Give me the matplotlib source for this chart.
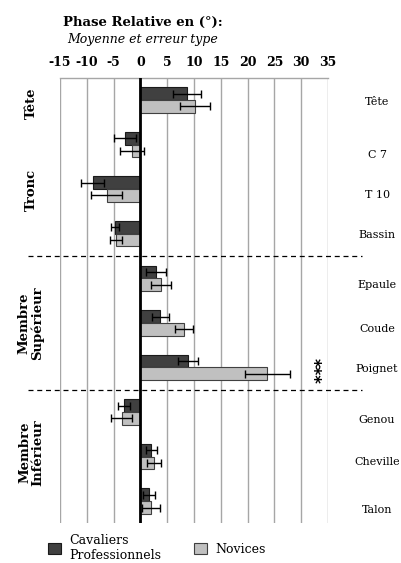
import matplotlib
matplotlib.use("Agg")
import matplotlib.pyplot as plt
import numpy as np

categories = ["Tête", "C 7", "T 10", "Bassin", "Epaule", "Coude", "Poignet",
              "Genou", "Cheville", "Talon"]
pro_mean = [8.7, -2.9, -8.9, -4.8, 2.85, 3.7, 8.9, -3.0, 2.0, 1.6]
pro_err = [2.6, 2.1, 2.1, 0.75, 1.9, 1.55, 1.9, 1.1, 1.05, 1.2]
nov_mean = [10.2, -1.6, -6.3, -4.6, 3.85, 8.1, 23.7, -3.5, 2.6, 2.0]
nov_err = [2.8, 2.2, 2.9, 1.1, 1.9, 1.7, 4.2, 2.0, 1.3, 1.7]
xticks = [-15, -10, -5, 0, 5, 10, 15, 20, 25, 30, 35]
groups = ["Tête", "Tronc", "Membre\nSupérieur", "Membre\nInférieur"]
series_names = ["Cavaliers\nProfessionnels", "Novices"]

# layout (not data)
label_dy = [0.04, 0.23, 0.13, 0.03, 0.16, 0.13, 0.03, 0.17, 0.13, 0.19]
group_y = [0.07, 2.02, 5.0, 7.91]
sep_y = [3.5, 6.5]

SERIF = "DejaVu Serif"
plt.rcParams['font.family'] = [SERIF]

fig = plt.figure(figsize=(4.02, 5.63), dpi=100)
ax = fig.add_axes([0.1493, 0.0702, 0.6667, 0.7918])

y = np.arange(len(categories))
h = 0.285
ekw = dict(ecolor="black", elinewidth=1.0, capsize=3, capthick=1.0)
b1 = ax.barh(y - h / 2, pro_mean, height=h, xerr=pro_err, color="#404040",
             edgecolor="#1a1a1a", linewidth=0.8, error_kw=ekw, zorder=3)
b2 = ax.barh(y + h / 2, nov_mean, height=h, xerr=nov_err, color="#c0c0c0",
             edgecolor="#404040", linewidth=0.8, error_kw=ekw, zorder=3)

ax.set_xlim(xticks[0], xticks[-1])
ax.set_ylim(len(categories) - 0.5, -0.5)
ax.set_xticks(xticks)
ax.xaxis.tick_top()
ax.set_xticklabels([str(t) for t in xticks], fontsize=9, fontweight="bold")
ax.tick_params(axis="x", length=0, pad=6)
ax.set_yticks([])
ax.grid(axis="x", color="#a6a6a6", linewidth=1.0, zorder=0)
for s in ["left", "right", "bottom"]:
    ax.spines[s].set_visible(False)
ax.spines["top"].set_color("#a6a6a6")
ax.spines["top"].set_linewidth(1.0)
ax.axvline(0, color="black", linewidth=2.0, zorder=5)

# category labels on right
for i, c in enumerate(categories):
    ax.text(1.183, y[i] + label_dy[i], c, transform=ax.get_yaxis_transform(),
            ha="center", va="center", fontsize=8)

# group labels on left
for g, gy in zip(groups, group_y):
    ax.text(-0.108, gy, g, transform=ax.get_yaxis_transform(), rotation=90,
            ha="center", va="center", fontsize=9.5, fontweight="bold",
            linespacing=1.0, multialignment="center")

# separators
for sy in sep_y:
    ax.plot([-0.119, 1.127], [sy, sy], transform=ax.get_yaxis_transform(),
            color="black", linestyle=(0, (4, 3)), linewidth=0.9, clip_on=False)

# significance
ax.text(32.2, 6.08, "***", rotation=270, ha="center", va="center",
        fontsize=12, fontweight="bold", family="DejaVu Sans")

fig.text(0.3545, 0.9597, "Phase Relative en (°):", ha="center", va="center",
         fontsize=9.5, fontweight="bold")
fig.text(0.3545, 0.929, "Moyenne et erreur type", ha="center", va="center",
         fontsize=9, style="italic")

fig.legend([b1, b2], series_names, ncol=2, loc="center left",
           bbox_to_anchor=(0.105, 0.027), frameon=False, fontsize=9,
           handlelength=1.0, handleheight=1.0, handletextpad=0.7,
           columnspacing=2.6, borderpad=0)

fig.savefig("out.png", dpi=100)
